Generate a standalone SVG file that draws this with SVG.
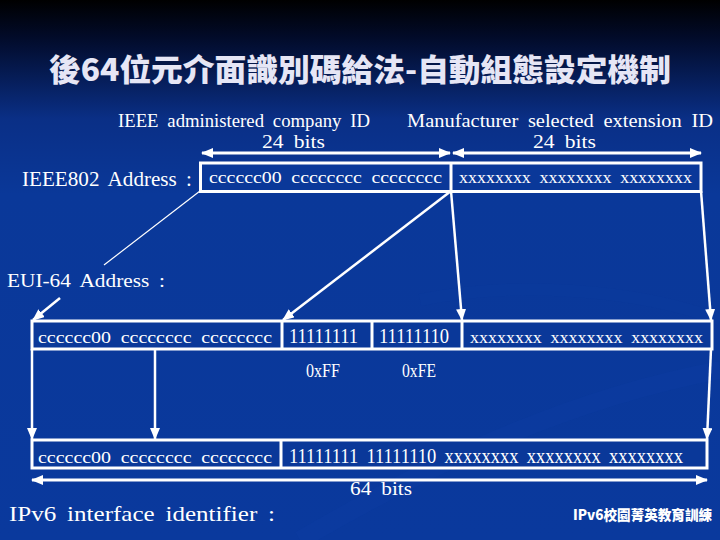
<svg xmlns="http://www.w3.org/2000/svg" width="720" height="540" viewBox="0 0 720 540">
  <defs>
    <linearGradient id="bg" x1="0" y1="0" x2="0" y2="540" gradientUnits="userSpaceOnUse">
      <stop offset="0" stop-color="#000000"/>
      <stop offset="0.07" stop-color="#020b2a"/>
      <stop offset="0.22" stop-color="#0a2f86"/>
      <stop offset="0.36" stop-color="#0a3899"/>
      <stop offset="1" stop-color="#0a399d"/>
    </linearGradient>
    <marker id="ah" viewBox="0 0 12 10" refX="11" refY="5" markerWidth="12" markerHeight="10" markerUnits="userSpaceOnUse" orient="auto-start-reverse">
      <path d="M0,0 L12,5 L0,10 Z" fill="#ffffff"/>
    </marker>
    <style>
      .t { font-family: "Liberation Serif", "Times New Roman", serif; fill: #ffffff; word-spacing: 4px; }
      .cjk { font-family: "Noto Sans CJK TC", "Noto Sans CJK SC", sans-serif; font-weight: 900; }
      .box { fill: #0a3899; stroke: #ffffff; stroke-width: 3; }
      .div { stroke: #ffffff; stroke-width: 3; fill: none; }
      .con { stroke: #ffffff; stroke-width: 2.5; fill: none; }
      .thin { stroke: #ffffff; stroke-width: 1.2; fill: none; }
    </style>
  </defs>

  <rect x="0" y="0" width="720" height="540" fill="url(#bg)"/>
  <path d="M300,540 C420,470 560,400 720,370" fill="none" stroke="#0e41a8" stroke-width="18" opacity="0.2"/>
  <path d="M420,300 C520,280 640,290 720,320" fill="none" stroke="#0c3c9f" stroke-width="12" opacity="0.25"/>

  <g id="title">
    <text class="cjk" x="360" y="81" font-size="31" text-anchor="middle" textLength="622" lengthAdjust="spacingAndGlyphs" fill="#e6e6f5">後64位元介面識別碼給法-自動組態設定機制</text>
  </g>

  <g id="field-labels">
    <text class="t" x="118" y="127" font-size="18" textLength="252" lengthAdjust="spacingAndGlyphs">IEEE administered company ID</text>
    <text class="t" x="262" y="148" font-size="18" textLength="63" lengthAdjust="spacingAndGlyphs">24 bits</text>
    <text class="t" x="407" y="127" font-size="18" textLength="306" lengthAdjust="spacingAndGlyphs">Manufacturer selected extension ID</text>
    <text class="t" x="533" y="148" font-size="18" textLength="63" lengthAdjust="spacingAndGlyphs">24 bits</text>
  </g>

  <g id="ieee802-address">
    <text class="t" x="22" y="186" font-size="21" textLength="170" lengthAdjust="spacingAndGlyphs">IEEE802 Address :</text>
    <rect class="box" x="200.5" y="163" width="500.5" height="28.5"/>
    <line class="div" x1="451" y1="163" x2="451" y2="191.5"/>
    <text class="t" x="209" y="183" font-size="17" textLength="233" lengthAdjust="spacingAndGlyphs">cccccc00 cccccccc cccccccc</text>
    <text class="t" x="459" y="183" font-size="17" textLength="233" lengthAdjust="spacingAndGlyphs">xxxxxxxx xxxxxxxx xxxxxxxx</text>
  </g>

  <g id="eui64-address">
    <text class="t" x="7" y="287" font-size="19" textLength="158" lengthAdjust="spacingAndGlyphs">EUI-64 Address :</text>
    <rect class="box" x="32" y="321" width="680" height="28"/>
    <line class="div" x1="282" y1="321" x2="282" y2="349"/>
    <line class="div" x1="372" y1="321" x2="372" y2="349"/>
    <line class="div" x1="462" y1="321" x2="462" y2="349"/>
    <text class="t" x="38" y="343" font-size="17" textLength="234" lengthAdjust="spacingAndGlyphs">cccccc00 cccccccc cccccccc</text>
    <text class="t" x="289" y="343" font-size="20" textLength="69" lengthAdjust="spacingAndGlyphs">11111111</text>
    <text class="t" x="379" y="343" font-size="20" textLength="70" lengthAdjust="spacingAndGlyphs">11111110</text>
    <text class="t" x="470" y="343" font-size="17" textLength="233" lengthAdjust="spacingAndGlyphs">xxxxxxxx xxxxxxxx xxxxxxxx</text>
    <text class="t" x="306" y="377" font-size="18" textLength="34" lengthAdjust="spacingAndGlyphs">0xFF</text>
    <text class="t" x="402" y="377" font-size="18" textLength="34" lengthAdjust="spacingAndGlyphs">0xFE</text>
  </g>

  <g id="ipv6-interface-identifier">
    <rect class="box" x="32" y="440" width="675" height="28"/>
    <line class="div" x1="281" y1="440" x2="281" y2="468"/>
    <text class="t" x="38" y="463" font-size="17" textLength="234" lengthAdjust="spacingAndGlyphs">cccccc00 cccccccc cccccccc</text>
    <text class="t" x="289" y="463" font-size="20" textLength="394" lengthAdjust="spacingAndGlyphs">11111111 11111110 xxxxxxxx xxxxxxxx xxxxxxxx</text>
    <text class="t" x="350" y="495" font-size="18" textLength="62" lengthAdjust="spacingAndGlyphs">64 bits</text>
    <text class="t" x="9" y="521" font-size="22" textLength="266" lengthAdjust="spacingAndGlyphs">IPv6 interface identifier :</text>
  </g>

  <g id="footer">
    <text class="cjk" x="573" y="520" font-size="14" textLength="139" lengthAdjust="spacingAndGlyphs" fill="#ffffff">IPv6校園菁英教育訓練</text>
  </g>

  <g id="connectors">
    <line class="div" x1="202" y1="153" x2="450" y2="153" marker-start="url(#ah)" marker-end="url(#ah)"/>
    <line class="div" x1="453" y1="153" x2="701" y2="153" marker-start="url(#ah)" marker-end="url(#ah)"/>
    <line class="thin" x1="200" y1="191" x2="104" y2="265"/>
    <line class="con" x1="60" y1="298" x2="33" y2="320" marker-end="url(#ah)"/>
    <line class="con" x1="451" y1="191" x2="283" y2="320" marker-end="url(#ah)"/>
    <line class="con" x1="451" y1="191" x2="462" y2="320" marker-end="url(#ah)"/>
    <line class="con" x1="701" y1="191" x2="711" y2="320" marker-end="url(#ah)"/>
    <line class="con" x1="32" y1="349" x2="32" y2="439" marker-end="url(#ah)"/>
    <line class="con" x1="155" y1="349" x2="155" y2="439" marker-end="url(#ah)"/>
    <line class="con" x1="711" y1="349" x2="707" y2="439" marker-end="url(#ah)"/>
    <line class="div" x1="32" y1="480" x2="707" y2="480" marker-start="url(#ah)" marker-end="url(#ah)"/>
  </g>
</svg>
